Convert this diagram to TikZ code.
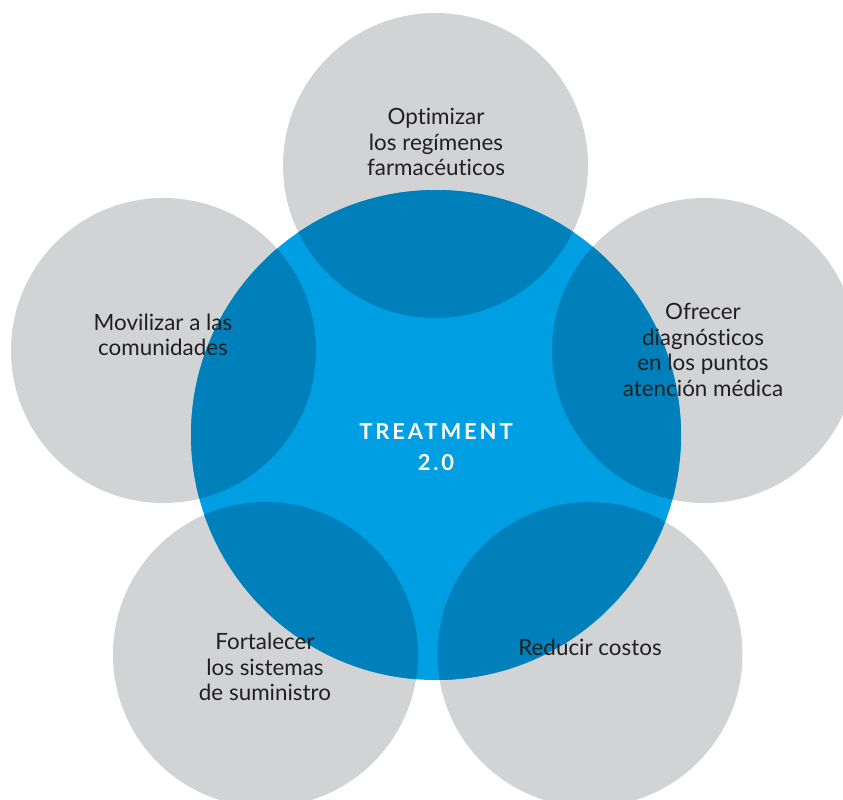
\documentclass[tikz,border=0pt]{standalone}
\usepackage{fontspec}
\setmainfont{Lato}[Ligatures={NoCommon}]
\newfontfamily\corefont[LetterSpace=13]{Lato Bold}
\usetikzlibrary{positioning}
\definecolor{petalgray}{RGB}{209,211,212}
\definecolor{coreblue}{RGB}{0,159,227}
\definecolor{overlapblue}{RGB}{0,128,186}
\definecolor{labelink}{RGB}{35,31,32}

\begin{document}
\begin{tikzpicture}[x=0.5pt, y=-0.5pt,
    petal/.style={fill=petalgray},
    petaltext/.style={align=center, text=labelink, inner sep=0pt,
                      font=\fontsize{11.2}{12.7}\selectfont},
    coretext/.style={align=center, text=white, inner sep=0pt,
                     font=\corefont\fontsize{11}{15.5}\selectfont}
]
\clip (0,0) rectangle (843,800);
% circle centres
\coordinate (core) at (436,435);
\coordinate (copt) at (435.5,165.5);
\coordinate (cmov) at (163.5,350.5);
\coordinate (cofr) at (704.5,350.5);
\coordinate (cfor) at (265.5,654.5);
\coordinate (cred) at (590,654.5);
% grey petals
\fill[petal] (copt) circle (76.25pt);
\fill[petal] (cmov) circle (76.25pt);
\fill[petal] (cofr) circle (76.25pt);
\fill[petal] (cfor) circle (76.25pt);
\fill[petal] (cred) circle (76.25pt);
% blue core and overlaps
\fill[coreblue] (core) circle (122.5pt);
\begin{scope}
  \clip (core) circle (122.5pt);
  \fill[overlapblue] (copt) circle (76.25pt);
  \fill[overlapblue] (cmov) circle (76.25pt);
  \fill[overlapblue] (cofr) circle (76.25pt);
  \fill[overlapblue] (cfor) circle (76.25pt);
  \fill[overlapblue] (cred) circle (76.25pt);
\end{scope}
% texts
\node[coretext] (treat) at (436,447) {TREATMENT\\2.0};
\node[petaltext] (opt) at (436,142) {Optimizar\\los regímenes\\farmacéuticos};
\node[petaltext] (mov) at (163,335) {Movilizar a las\\comunidades};
\node[petaltext] (ofr) at (703,350) {Ofrecer\\diagnósticos\\en los puntos\\atención médica};
\node[petaltext] (for) at (265,667) {Fortalecer\\los sistemas\\de suministro};
\node[petaltext] (red) at (590,647) {Reducir costos};
\end{tikzpicture}
\end{document}
